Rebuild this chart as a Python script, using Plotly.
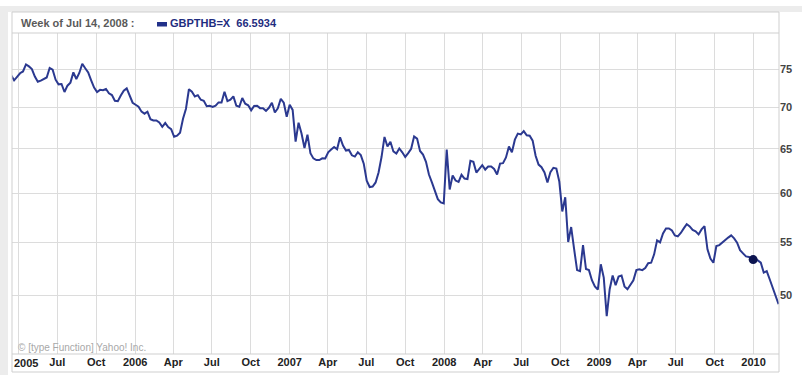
import math
import pandas as pd
import plotly.graph_objects as go

# ---------------- data (weekly GBP/THB closes) ----------------
start_week = "2005-03-14"
gbpthb_weekly = [
    74.15, 73.49, 73.95, 74.43, 74.67, 75.62, 75.35, 75.00, 74.00, 73.30,
    73.45, 73.70, 73.87, 75.13, 74.91, 73.58, 72.97, 73.01, 71.97, 72.79,
    73.19, 74.55, 73.67, 74.47, 75.71, 75.10, 74.53, 73.50, 72.55, 71.97,
    72.25, 72.20, 72.36, 71.80, 71.58, 70.85, 70.80, 71.53, 72.14, 72.44,
    71.50, 70.60, 70.35, 70.10, 69.48, 69.23, 69.48, 68.55, 68.40, 68.40,
    68.15, 67.62, 68.08, 67.59, 67.33, 66.42, 66.55, 66.90, 68.60, 69.85,
    72.33, 72.00, 71.40, 71.56, 70.98, 70.85, 70.16, 70.22, 70.06, 70.22,
    70.64, 70.64, 72.01, 70.80, 70.98, 71.41, 70.22, 70.10, 71.20, 70.47,
    70.28, 69.64, 70.20, 70.22, 69.92, 69.92, 69.58, 69.96, 70.60, 69.38,
    69.90, 71.10, 70.60, 68.84, 70.35, 69.70, 65.85, 68.12, 66.80, 65.10,
    66.67, 64.50, 63.90, 63.70, 63.70, 63.90, 63.88, 64.60, 64.92, 65.22,
    64.95, 66.36, 65.38, 64.80, 64.87, 64.25, 64.10, 64.60, 64.27, 63.30,
    61.40, 60.70, 60.75, 61.20, 62.30, 64.05, 66.40, 65.27, 65.84, 64.70,
    64.46, 65.04, 64.60, 64.06, 64.50, 65.00, 66.47, 66.20, 64.75, 64.33,
    63.50, 62.07, 61.20, 60.20, 59.40, 59.05, 58.95, 64.91, 60.43, 61.97,
    61.41, 61.25, 62.05, 61.63, 61.57, 63.62, 63.50, 62.30, 62.70, 63.13,
    62.63, 62.97, 62.97, 62.70, 62.07, 63.30, 63.35, 64.00, 65.27, 64.60,
    66.08, 66.80, 66.70, 67.10, 66.5934, 66.55, 65.96, 64.20, 63.19, 62.90,
    62.30, 61.20, 62.35, 62.83, 62.75, 61.30, 58.10, 59.60, 55.00, 56.50,
    54.30, 52.30, 52.20, 54.70, 52.40, 52.30, 51.36, 50.80, 50.50, 52.85,
    51.60, 48.15, 50.54, 51.80, 50.90, 51.70, 51.80, 50.80, 50.54, 50.90,
    51.35, 52.30, 52.38, 52.30, 52.50, 52.95, 53.00, 53.80, 55.17, 54.97,
    55.86, 56.36, 56.36, 56.16, 55.66, 55.56, 55.90, 56.36, 56.80, 56.56,
    56.20, 56.06, 55.76, 56.26, 56.60, 54.28, 53.40, 53.00, 54.60, 54.70,
    54.97, 55.26, 55.44, 55.66, 55.36, 54.94, 54.20, 53.90, 53.60, 53.55,
    53.40, 53.32, 53.22, 53.00, 52.07, 52.20, 51.45, 50.63, 49.82, 49.20,
]
marker_date = "2009-12-31"
marker_value = 53.3

header_week = "Week of Jul 14, 2008 :"
symbol_name = "GBPTHB=X"
header_value = "66.5934"

x_tick_dates = ["2005-04-01", "2005-07-01", "2005-10-01", "2006-01-01", "2006-04-01",
                "2006-07-01", "2006-10-01", "2007-01-01", "2007-04-01", "2007-07-01",
                "2007-10-01", "2008-01-01", "2008-04-01", "2008-07-01", "2008-10-01",
                "2009-01-01", "2009-04-01", "2009-07-01", "2009-10-01", "2010-01-01"]
x_tick_text = ["", "Jul", "Oct", "2006", "Apr", "Jul", "Oct", "2007", "Apr", "Jul",
               "Oct", "2008", "Apr", "Jul", "Oct", "2009", "Apr", "Jul", "Oct", "2010"]
y_tick_vals = [50, 55, 60, 65, 70, 75]
y_tick_text = ["50", "55", "60", "65", "70", "75"]
x_range = ["2005-03-16", "2010-03-02"]
y_range = [45, 80]

# ---------------- figure ----------------
W, H = 802, 375
L, R, T, B = 12, 23, 33, 21
pw, ph = W - L - R, H - T - B


def xp(px):
    return (px - L) / pw


def yp(py):
    return (H - B - py) / ph


dates = pd.date_range(start_week, periods=len(gbpthb_weekly), freq="7D")
LINE = "#2b3990"
GRID = "#dcdcdc"
FONT = "Arial, Liberation Sans, sans-serif"

fig = go.Figure()
fig.add_trace(go.Scatter(x=dates, y=gbpthb_weekly, mode="lines",
                         line=dict(color=LINE, width=2), hoverinfo="x+y",
                         showlegend=False))
fig.add_trace(go.Scatter(x=[marker_date], y=[marker_value], mode="markers",
                         marker=dict(color="#0c1450", size=9), showlegend=False))

fig.update_layout(
    width=W, height=H, margin=dict(l=L, r=R, t=T, b=B, pad=0, autoexpand=False),
    paper_bgcolor="white", plot_bgcolor="white",
    font=dict(family=FONT, size=11, color="#333"),
    xaxis=dict(type="date", range=x_range, tickmode="array", tickvals=x_tick_dates,
               ticktext=x_tick_text, showgrid=True, gridcolor=GRID, gridwidth=1,
               ticks="", zeroline=False, showline=False, automargin=False,
               tickfont=dict(family=FONT, size=11, color="#222", weight="bold")),
    yaxis=dict(type="log", range=[math.log10(y_range[0]), math.log10(y_range[1])],
               side="right", tickmode="array", tickvals=y_tick_vals, ticktext=y_tick_text,
               showgrid=True, gridcolor=GRID, gridwidth=1, ticks="", zeroline=False,
               showline=False, automargin=False,
               tickfont=dict(family=FONT, size=11, color="#444", weight="bold")),
)

shapes = [
    # light grey outer frame
    dict(type="rect", xref="paper", yref="paper", x0=xp(0), x1=xp(W), y0=yp(12), y1=yp(6),
         fillcolor="#ececec", line=dict(width=0), layer="below"),
    dict(type="rect", xref="paper", yref="paper", x0=xp(0), x1=xp(8), y0=yp(H), y1=yp(6),
         fillcolor="#ececec", line=dict(width=0), layer="below"),
    # chart box
    dict(type="rect", xref="paper", yref="paper", x0=0, x1=1, y0=yp(372), y1=yp(12),
         fillcolor="rgba(0,0,0,0)", line=dict(color="#cfcfcf", width=1)),
    dict(type="line", xref="paper", yref="paper", x0=0, x1=1, y0=1, y1=1,
         line=dict(color="#cfcfcf", width=1)),
    dict(type="line", xref="paper", yref="paper", x0=0, x1=1, y0=0, y1=0,
         line=dict(color="#cfcfcf", width=1)),
    # legend swatch
    dict(type="rect", xref="paper", yref="paper", x0=xp(157), x1=xp(167), y0=yp(26.5),
         y1=yp(22), fillcolor="#22318a", line=dict(width=0)),
]
fig.update_layout(shapes=shapes)

ann = [
    dict(text=header_week, x=xp(19), y=yp(23.5), xanchor="left", yanchor="middle",
         font=dict(family=FONT, size=11, color="#5a5a5a", weight="bold")),
    dict(text=symbol_name + "&nbsp;&nbsp;" + header_value, x=xp(168), y=yp(23.5),
         xanchor="left", yanchor="middle",
         font=dict(family=FONT, size=11, color="#1f2d80", weight="bold")),
    dict(text="© [type Function] Yahoo! Inc.", x=xp(16), y=yp(347), xanchor="left",
         yanchor="middle", font=dict(family=FONT, size=10, color="#a8a8a8")),
    dict(text="2005", x=0, y=yp(362.5), xanchor="left", yanchor="middle",
         font=dict(family=FONT, size=11, color="#222", weight="bold")),
]
for a in ann:
    a.update(xref="paper", yref="paper", showarrow=False)
fig.update_layout(annotations=ann)

fig.write_html("out.html", config={"displayModeBar": False},
               post_script="document.body.style.margin='0';document.body.style.padding='0';")
